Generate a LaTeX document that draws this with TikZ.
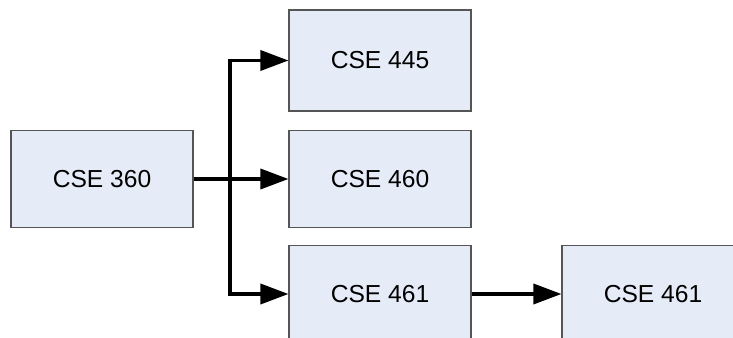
\documentclass[tikz,border=0pt]{standalone}
\usepackage{fontspec}
\setmainfont{Liberation Sans}
\usetikzlibrary{arrows.meta}
\usetikzlibrary{positioning}

\begin{document}
\begin{tikzpicture}[
    font=\fontsize{14}{16}\selectfont
]
\definecolor{boxfill}{HTML}{E6ECF7}
\definecolor{boxline}{HTML}{555555}
\tikzset{
    course/.style = {rectangle, draw=boxline, line width=0.6pt, fill=boxfill,
        minimum width=3.64cm, minimum height=1.94cm, inner sep=0pt, align=center},
    edgen/.style = {-{Triangle[length=0.56cm,width=0.4cm]}, line width=2pt, black}
}
\useasboundingbox (0,0) rectangle (14.66,-6.76);
\clip (0,0) rectangle (14.66,-6.76);
\node[course] at (2.04,-3.58)  (c360) {CSE 360};
\node[course, minimum height=2.02cm] at (7.6,-1.21) (c445) {CSE 445};
\node[course] at (7.6,-3.58)   (c460) {CSE 460};
\node[course] at (7.6,-5.88)   (c461) {CSE 461};
\node[course] at (13.06,-5.88) (c461b) {CSE 461};
\coordinate (top) at (4.6,-1.21);
\coordinate (bot) at (4.6,-5.88);
\draw[edgen] (c360.east) -- (c460.west);
\draw[edgen] (bot) -- (top) -- (c445.west);
\draw[edgen] (top) -- (bot) -- (c461.west);
\draw[edgen] (c461.east) -- (c461b.west);
\end{tikzpicture}
\end{document}
